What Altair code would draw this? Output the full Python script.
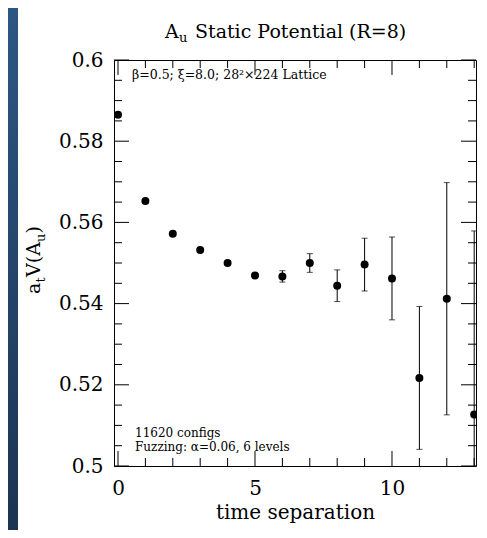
import altair as alt
import pandas as pd

# ---- data ----
t = list(range(14))
V = [0.5865, 0.5653, 0.5572, 0.5532, 0.5500, 0.5469, 0.5467,
     0.5500, 0.5444, 0.5496, 0.5462, 0.5217, 0.5412, 0.5127]
err = [0.0002, 0.0002, 0.0002, 0.0003, 0.0004, 0.0006, 0.0014,
       0.0023, 0.0039, 0.0065, 0.0102, 0.0176, 0.0286, 0.0452]

y_major = [0.5, 0.52, 0.54, 0.56, 0.58, 0.6]
y_minor = [0.505, 0.51, 0.515, 0.525, 0.53, 0.535, 0.545, 0.55, 0.555,
           0.565, 0.57, 0.575, 0.585, 0.59, 0.595]
x_major = [0, 5, 10]
x_minor = [1, 2, 3, 4, 6, 7, 8, 9, 11, 12, 13]

xlab_text = "time separation"
note_top = "\u03b2=0.5; \u03be=8.0; 28\u00b2\u00d7224 Lattice"
note_b1 = "11620 configs"
note_b2 = "Fuzzing: \u03b1=0.06, 6 levels"

# ---- layout ----
W, H = 362, 406
XDOM = [-0.146, 13.066]
YDOM = [0.5, 0.6]
FONT = "DejaVu Serif"
MAJ, MIN = 15, 8

df = pd.DataFrame({"t": t, "V": V, "err": err})
df["lo"] = df["V"] - df["err"]
df["hi"] = df["V"] + df["err"]

xs = alt.Scale(domain=XDOM, nice=False, zero=False)
ys = alt.Scale(domain=YDOM, nice=False, zero=False)

one = alt.Data(values=[{}])

grad = alt.LinearGradient(
    gradient="linear",
    stops=[alt.GradientStop(color="#2c5783", offset=0),
           alt.GradientStop(color="#1b3453", offset=1)],
    x1=0, x2=0, y1=0, y2=1)
bg = alt.Chart(one).mark_rect(color=grad).encode(
    x=alt.value(-106), x2=alt.value(-96), y=alt.value(-52), y2=alt.value(H + 64))

base = alt.Chart(df)
points = base.mark_circle(size=64, color="black", opacity=1, clip=True).encode(
    x=alt.X("t:Q", scale=xs,
            axis=alt.Axis(values=x_major, title=xlab_text, titleY=46,
                          titleBaseline="middle", labelPadding=22,
                          labelBaseline="middle", format="d")),
    y=alt.Y("V:Q", scale=ys,
            axis=alt.Axis(values=y_major, format=".2~f", title=None,
                          labelPadding=11)))
bars = base.mark_rule(color="black", strokeWidth=1, clip=True).encode(
    x="t:Q", y="lo:Q", y2="hi:Q")
cap_lo = base.mark_tick(orient="horizontal", size=6, thickness=1,
                        color="black", clip=True).encode(x="t:Q", y="lo:Q")
cap_hi = base.mark_tick(orient="horizontal", size=6, thickness=1,
                        color="black", clip=True).encode(x="t:Q", y="hi:Q")

def ytick(vals, ln):
    d = alt.Chart(pd.DataFrame({"V": vals}))
    left = d.mark_rule(color="black", strokeWidth=1).encode(
        y=alt.Y("V:Q", scale=ys), x=alt.value(0), x2=alt.value(ln))
    right = d.mark_rule(color="black", strokeWidth=1).encode(
        y=alt.Y("V:Q", scale=ys), x=alt.value(W - ln), x2=alt.value(W))
    return [left, right]

def xtick(vals, ln):
    d = alt.Chart(pd.DataFrame({"t": vals}))
    bot = d.mark_rule(color="black", strokeWidth=1).encode(
        x=alt.X("t:Q", scale=xs), y=alt.value(H - ln), y2=alt.value(H))
    top = d.mark_rule(color="black", strokeWidth=1).encode(
        x=alt.X("t:Q", scale=xs), y=alt.value(0), y2=alt.value(ln))
    return [bot, top]

def txt(s, x, y, size, align="left", angle=0, baseline="middle"):
    kw = dict(text=s, font=FONT, fontSize=size, color="black",
              align=align, baseline=baseline)
    if angle:
        kw["angle"] = angle
    return alt.Chart(one).mark_text(**kw).encode(x=alt.value(x), y=alt.value(y))

layers = [bg]
layers += ytick(y_major, MAJ) + ytick(y_minor, MIN)
layers += xtick(x_major, MAJ) + xtick(x_minor, MIN)
layers += [bars, cap_lo, cap_hi, points]

# title: A with subscript u, then the rest
TY = -22
layers += [
    txt("A", 51, TY, 19, baseline="alphabetic"),
    txt("u", 65, TY + 4, 13, baseline="alphabetic"),
    txt("Static Potential (R=8)", 81, TY, 19, baseline="alphabetic"),
]
# rotated y title: a_t V(A_u), reading bottom to top
YT_X = -74
layers += [
    txt("a", YT_X, 234, 19, angle=270, baseline="alphabetic"),
    txt("t", YT_X + 5, 222.5, 13, angle=270, baseline="alphabetic"),
    txt("V(A", YT_X, 217, 19, angle=270, baseline="alphabetic"),
    txt("u", YT_X + 5, 182, 13, angle=270, baseline="alphabetic"),
    txt(")", YT_X, 173.5, 19, angle=270, baseline="alphabetic"),
]
layers += [
    txt(note_top, 18, 15, 12.5),
    txt(note_b1, 21, 373, 12),
    txt(note_b2, 21, 387, 12),
]

chart = alt.layer(*layers).properties(
    width=W, height=H,
    autosize=alt.AutoSizeParams(type="none"),
    padding={"left": 106, "top": 52, "right": 3, "bottom": 64},
    background="white",
).configure_view(stroke="black", strokeWidth=1).configure_axis(
    labelFont=FONT, labelFontSize=20, labelColor="black",
    titleFont=FONT, titleFontSize=20, titleFontWeight="normal", titleColor="black",
    ticks=False, domain=False, grid=False,
)

chart.save("out.html", embed_options={"renderer": "svg", "actions": False})
